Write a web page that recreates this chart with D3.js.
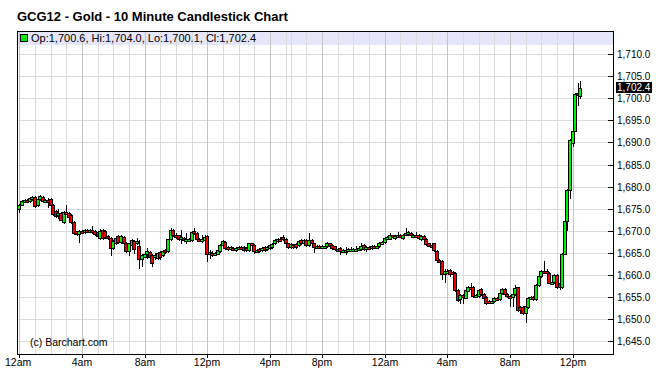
<!DOCTYPE html>
<html><head><meta charset="utf-8">
<script src="https://cdn.jsdelivr.net/npm/d3@7"></script>
<style>
html,body{margin:0;padding:0;background:#fff;}
svg{display:block;font-family:"Liberation Sans",Arial,sans-serif;}
</style></head><body>
<svg id="chart" width="663" height="381"></svg>
<script>
const title = "GCG12 - Gold - 10 Minute Candlestick Chart";
const legendText = "Op:1,700.6, Hi:1,704.0, Lo:1,700.1, Cl:1,702.4";
const copyright = "(c) Barchart.com";
const lastPrice = 1702.4;

const opens = [1674.8,1675.8,1676.7,1677.0,1676.8,1677.2,1677.6,1675.7,1677.2,1677.7,1676.8,1677.0,1677.1,1675.8,1674.5,1673.6,1674.0,1671.9,1674.2,1674.0,
1673.6,1671.9,1669.8,1669.3,1670.0,1669.7,1670.1,1669.9,1670.1,1670.0,1669.6,1668.3,1670.1,1669.9,1668.7,1668.4,1666.1,1667.1,1668.7,1667.5,
1668.5,1667.2,1665.4,1666.8,1667.7,1667.1,1666.5,1663.5,1664.1,1664.8,1665.2,1664.5,1663.9,1663.7,1665.2,1664.4,1665.7,1665.3,1668.0,1670.2,
1669.0,1668.9,1668.1,1668.4,1667.9,1667.8,1667.8,1670.0,1669.4,1668.2,1667.9,1667.8,1668.8,1664.8,1665.0,1664.6,1664.8,1665.3,1666.7,1667.5,
1666.3,1665.8,1666.1,1665.6,1666.0,1666.3,1666.3,1666.1,1665.6,1667.1,1666.7,1665.4,1665.8,1665.6,1666.2,1665.8,1666.1,1666.3,1667.1,1667.6,
1668.2,1668.6,1668.2,1667.1,1666.3,1666.7,1666.9,1666.7,1667.8,1667.1,1667.8,1666.7,1667.8,1667.1,1666.3,1666.5,1666.4,1666.5,1666.4,1667.1,
1666.8,1666.4,1665.9,1666.0,1665.5,1665.7,1665.7,1665.8,1665.8,1665.8,1665.9,1665.8,1666.7,1665.8,1666.3,1666.1,1666.5,1666.4,1666.4,1667.3,
1667.5,1668.4,1668.2,1668.9,1668.3,1668.8,1669.0,1668.3,1669.2,1669.2,1669.4,1668.9,1669.1,1669.0,1668.1,1668.8,1668.2,1667.1,1666.6,1667.1,
1665.3,1663.3,1663.1,1660.1,1660.8,1661.0,1660.6,1660.3,1656.5,1654.4,1655.5,1654.8,1656.4,1657.3,1657.3,1655.1,1655.1,1656.7,1655.7,1655.0,
1654.1,1653.9,1654.1,1654.8,1654.4,1655.9,1656.7,1655.7,1655.2,1655.0,1655.7,1657.1,1652.6,1652.6,1651.2,1652.7,1654.8,1655.0,1654.4,1657.6,
1659.7,1660.8,1660.8,1660.4,1658.2,1658.4,1659.9,1658.0,1657.1,1664.8,1672.2,1679.3,1689.9,1692.7,1701.3,1700.6];
const highs = [1676.0,1676.9,1677.1,1677.2,1677.5,1677.9,1677.8,1677.5,1678.0,1677.9,1677.2,1677.4,1677.3,1676.0,1674.7,1674.8,1674.3,1674.4,1675.7,1674.2,
1673.8,1672.1,1670.0,1670.2,1670.2,1670.4,1670.3,1670.3,1671.1,1670.2,1669.8,1670.4,1670.3,1670.1,1668.9,1668.6,1667.9,1668.6,1668.9,1668.9,
1668.7,1667.4,1667.3,1668.1,1667.9,1668.4,1667.9,1664.6,1665.0,1666.1,1665.4,1664.7,1665.0,1665.2,1665.4,1665.6,1665.9,1668.2,1670.5,1670.4,
1669.5,1669.1,1670.1,1668.6,1669.4,1668.4,1670.0,1670.5,1669.6,1668.4,1669.1,1669.0,1669.0,1665.6,1665.3,1665.1,1665.8,1666.9,1667.8,1667.7,
1666.5,1666.5,1666.3,1666.2,1666.5,1666.5,1666.5,1666.3,1667.3,1667.3,1666.9,1665.8,1666.0,1666.2,1666.4,1666.5,1666.9,1667.1,1668.0,1668.4,
1668.6,1668.9,1668.4,1667.3,1667.1,1666.9,1667.1,1667.8,1668.0,1668.0,1668.0,1669.5,1668.0,1667.3,1666.7,1666.7,1666.7,1666.9,1667.5,1667.3,
1667.0,1666.6,1666.1,1666.2,1665.9,1666.3,1666.0,1666.3,1666.0,1666.4,1666.2,1667.1,1666.9,1666.5,1666.5,1666.7,1666.7,1666.8,1667.5,1667.7,
1668.6,1668.8,1669.5,1669.1,1669.0,1669.6,1669.2,1669.3,1670.5,1669.8,1669.6,1669.3,1669.7,1669.2,1669.0,1669.0,1668.4,1667.3,1667.0,1667.3,
1665.5,1663.5,1663.3,1661.2,1661.2,1661.2,1660.8,1660.5,1656.7,1655.7,1655.7,1656.7,1657.5,1658.0,1657.5,1655.6,1656.7,1656.9,1655.9,1655.2,
1654.3,1654.3,1655.0,1655.0,1656.1,1656.9,1656.9,1655.9,1655.5,1655.9,1657.6,1657.3,1652.8,1652.8,1653.1,1655.0,1655.1,1655.2,1657.8,1659.9,
1661.0,1663.1,1661.4,1660.6,1659.2,1660.1,1660.1,1658.2,1665.0,1672.4,1679.5,1690.7,1693.0,1701.3,1703.4,1704.0];
const lows = [1674.2,1675.7,1676.5,1676.5,1676.6,1677.0,1675.3,1675.5,1677.0,1676.5,1676.5,1675.4,1675.7,1673.6,1673.2,1672.9,1672.3,1671.7,1673.8,1673.0,
1671.7,1669.2,1669.0,1667.5,1669.4,1669.5,1669.7,1669.7,1669.4,1669.0,1668.5,1668.1,1668.2,1668.3,1668.0,1664.5,1665.9,1666.9,1667.3,1667.3,
1666.9,1665.2,1664.4,1666.6,1665.0,1666.9,1661.5,1662.0,1663.9,1663.7,1663.0,1662.0,1663.5,1663.5,1663.6,1664.2,1665.0,1665.1,1667.8,1668.8,
1668.3,1667.9,1667.1,1667.6,1667.1,1667.6,1667.6,1669.2,1668.0,1667.7,1667.5,1667.5,1663.1,1663.7,1664.3,1664.4,1664.6,1665.1,1666.5,1665.8,
1665.5,1665.6,1665.7,1665.4,1665.8,1666.0,1665.4,1665.4,1665.4,1666.6,1664.9,1665.2,1665.2,1665.4,1665.4,1665.6,1665.9,1666.1,1666.9,1667.4,
1667.9,1667.9,1666.9,1666.1,1666.1,1666.1,1666.1,1666.5,1666.9,1666.9,1666.5,1666.5,1666.9,1665.2,1666.1,1666.2,1666.2,1666.3,1666.2,1666.4,
1665.9,1665.6,1665.5,1664.8,1665.3,1664.8,1665.5,1665.3,1665.6,1665.5,1665.7,1665.6,1665.6,1665.3,1665.9,1665.9,1666.2,1666.2,1666.2,1667.1,
1667.3,1668.2,1668.0,1668.4,1668.1,1668.6,1668.5,1668.1,1669.0,1669.0,1668.7,1668.7,1668.7,1668.2,1667.9,1667.9,1666.7,1666.4,1666.4,1665.4,
1663.1,1662.9,1659.0,1658.4,1660.5,1659.8,1660.0,1656.3,1654.0,1653.5,1653.5,1654.6,1656.2,1656.8,1654.9,1654.9,1654.9,1655.5,1654.6,1653.4,
1653.5,1653.7,1653.9,1654.4,1654.2,1655.7,1655.5,1654.9,1652.9,1652.9,1655.5,1651.8,1651.2,1651.0,1649.3,1652.5,1654.6,1654.2,1654.2,1657.4,
1659.5,1660.4,1660.1,1658.0,1658.0,1658.2,1656.9,1656.7,1656.9,1664.6,1670.1,1677.3,1689.2,1692.5,1698.5,1700.1];
const closes = [1675.8,1676.7,1676.9,1676.7,1677.3,1677.7,1675.5,1677.2,1677.8,1676.8,1677.0,1676.8,1675.9,1673.8,1673.4,1674.1,1672.5,1674.2,1674.0,1673.2,
1671.9,1669.4,1669.3,1670.0,1669.6,1670.2,1669.9,1670.1,1669.9,1669.2,1668.7,1670.0,1668.4,1668.6,1668.4,1666.1,1667.7,1668.4,1667.5,1668.7,
1667.1,1665.4,1667.1,1667.9,1665.9,1667.7,1663.5,1664.4,1664.8,1665.4,1663.9,1662.7,1664.5,1665.0,1664.1,1665.4,1665.2,1668.0,1670.1,1669.0,
1668.7,1668.1,1668.5,1667.8,1668.1,1668.2,1669.7,1669.4,1668.2,1667.9,1668.2,1668.6,1664.8,1665.2,1664.5,1664.9,1665.6,1666.7,1667.6,1666.0,
1665.8,1666.3,1665.9,1666.0,1666.3,1666.2,1665.6,1665.6,1667.1,1666.8,1665.3,1665.6,1665.4,1666.0,1665.6,1666.3,1666.7,1666.9,1667.8,1668.2,
1668.1,1668.1,1667.1,1666.3,1666.9,1666.5,1666.3,1667.6,1667.1,1667.8,1666.7,1667.8,1667.1,1666.3,1666.5,1666.4,1666.5,1666.6,1667.1,1666.6,
1666.1,1665.8,1665.7,1665.4,1665.7,1665.6,1665.8,1665.9,1665.8,1665.9,1666.0,1666.6,1665.8,1666.3,1666.1,1666.5,1666.4,1666.5,1667.3,1667.5,
1668.4,1668.6,1669.0,1668.6,1668.8,1669.0,1668.7,1669.1,1669.4,1669.6,1668.9,1669.1,1668.9,1668.4,1668.8,1668.1,1666.9,1666.6,1666.8,1665.6,
1663.3,1663.1,1660.1,1660.8,1660.9,1660.1,1660.3,1656.5,1654.2,1655.5,1655.4,1656.5,1657.3,1657.0,1655.1,1655.4,1656.5,1655.7,1654.8,1653.6,
1653.9,1654.1,1654.8,1654.6,1655.9,1656.7,1655.7,1655.1,1655.0,1655.7,1656.9,1652.0,1652.0,1651.2,1652.9,1654.8,1654.9,1654.4,1657.6,1659.7,
1660.8,1660.6,1660.3,1658.2,1658.4,1659.9,1657.1,1657.1,1664.8,1672.2,1679.3,1690.5,1692.7,1701.1,1700.8,1702.4];

const yTicks = [1645,1650,1655,1660,1665,1670,1675,1680,1685,1690,1695,1700,1705,1710];
const xTickIndex = [0,24,48,72,96,116,140,164,188,212];
const xTickLabels = ["12am","4am","8am","12pm","4pm","8pm","12am","4am","8am","12pm"];
const hourIndex = [0,6,12,18,24,30,36,42,48,54,60,66,72,78,84,90,96,102,104,110,116,122,128,134,140,146,152,158,164,170,176,182,188,194,200,206,212];

const data = opens.map((o,i)=>({i, o, h:highs[i], l:lows[i], c:closes[i]}));

const svg = d3.select("#chart");
const L = 17, R = 613, T = 31, B = 354;

const x = d3.scaleLinear().domain([0, 212]).range([19.3, 572.6]);
const y = d3.scaleLinear().domain([1642, 1715.3]).range([B, T]);
const px = v => Math.round(x(v));
const py = v => Math.round(y(v));

// title
svg.append("text").attr("x", 17).attr("y", 21)
  .attr("font-size", 13).attr("font-weight", "bold").attr("fill", "#000").text(title);

// legend band
svg.append("rect").attr("x", L).attr("y", T).attr("width", R - L).attr("height", 14)
  .attr("fill", "#e6e6fa");

const g = svg.append("g").attr("shape-rendering", "crispEdges");

// horizontal grid
g.selectAll("line.hg").data(yTicks).join("line")
  .attr("x1", L).attr("x2", R).attr("y1", d => py(d) + 0.5).attr("y2", d => py(d) + 0.5)
  .attr("stroke", "#dcdcdc");
// vertical grid
g.selectAll("line.vg").data(hourIndex).join("line")
  .attr("x1", d => px(d) + 0.5).attr("x2", d => px(d) + 0.5).attr("y1", T).attr("y2", B)
  .attr("stroke", d => xTickIndex.includes(d) ? "#c4c4c4" : "#dcdcdc");

// candles
const cg = g.append("g");
cg.selectAll("line.wick").data(data).join("line")
  .attr("x1", d => px(d.i) + 0.5).attr("x2", d => px(d.i) + 0.5)
  .attr("y1", d => py(d.h)).attr("y2", d => py(d.l) + 1)
  .attr("stroke", "#000");
cg.selectAll("rect.body").data(data).join("rect")
  .attr("x", d => px(d.i) - 1.5).attr("width", 3)
  .attr("y", d => Math.min(py(d.o), py(d.c)) + 0.5)
  .attr("height", d => Math.max(2, Math.abs(py(d.o) - py(d.c))))
  .attr("fill", d => d.c >= d.o ? "#00f000" : "#f00000")
  .attr("stroke", "#000").attr("stroke-width", 1);

// frame
g.append("line").attr("x1", L + 0.5).attr("x2", L + 0.5).attr("y1", T).attr("y2", B + 1).attr("stroke", "#000");
g.append("line").attr("x1", L).attr("x2", R).attr("y1", T + 0.5).attr("y2", T + 0.5).attr("stroke", "#000");
g.append("line").attr("x1", L).attr("x2", R + 1).attr("y1", B + 0.5).attr("y2", B + 0.5).attr("stroke", "#000");
g.append("line").attr("x1", R + 0.5).attr("x2", R + 0.5).attr("y1", T).attr("y2", B + 1).attr("stroke", "#000");

// legend
g.append("rect").attr("x", 20.5).attr("y", 34.5).attr("width", 7).attr("height", 7)
  .attr("fill", "#00f000").attr("stroke", "#000");
svg.append("text").attr("x", 31).attr("y", 42).attr("font-size", 11).attr("fill", "#000").text(legendText);

// y axis right
const fmt = d3.format(",.1f");
g.selectAll("line.yt").data(yTicks).join("line")
  .attr("x1", R - 5).attr("x2", R).attr("y1", d => py(d) + 0.5).attr("y2", d => py(d) + 0.5).attr("stroke", "#000");
svg.selectAll("text.yl").data(yTicks).join("text")
  .attr("x", 617).attr("y", d => py(d) + 4).attr("font-size", 10).attr("fill", "#000")
  .text(d => fmt(d));

// last price box
const ly = py(lastPrice);
g.append("rect").attr("x", 616).attr("y", ly - 6).attr("width", 36).attr("height", 11).attr("fill", "#000");
svg.append("text").attr("x", 617).attr("y", ly + 2.5).attr("font-size", 10).attr("fill", "#fff").text(fmt(lastPrice));

// x axis
g.selectAll("line.xt").data(xTickIndex).join("line")
  .attr("x1", d => px(d) + 0.5).attr("x2", d => px(d) + 0.5).attr("y1", B).attr("y2", B + 4).attr("stroke", "#000");
svg.selectAll("text.xl").data(xTickIndex).join("text")
  .attr("x", (d, k) => k === 0 ? 5 : px(d)).attr("y", 366)
  .attr("text-anchor", (d, k) => k === 0 ? "start" : "middle")
  .attr("font-size", 10.5).attr("fill", "#000").text((d, k) => xTickLabels[k]);

// copyright
svg.append("text").attr("x", 30).attr("y", 346).attr("font-size", 10.5).attr("fill", "#000").text(copyright);
</script>
</body></html>
